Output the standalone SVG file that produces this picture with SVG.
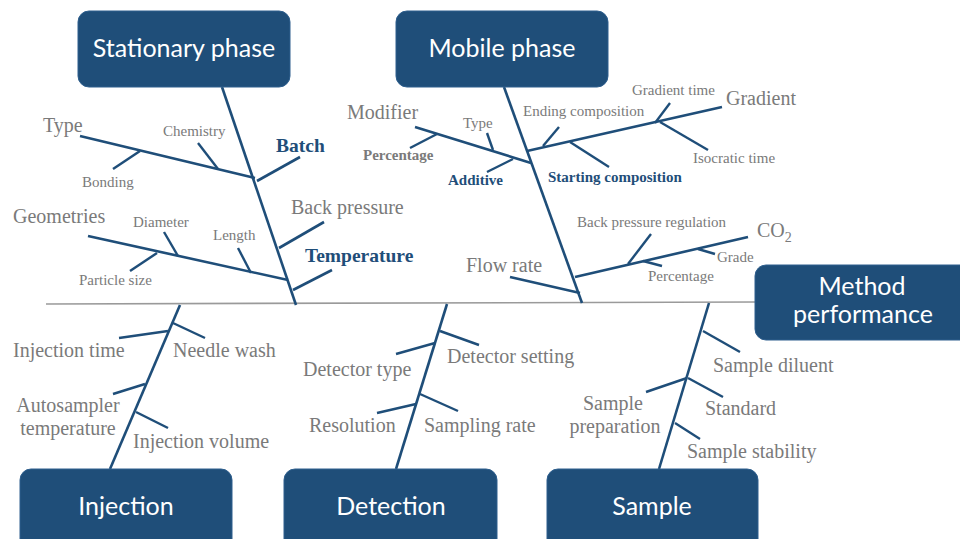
<svg xmlns="http://www.w3.org/2000/svg" width="960" height="539" viewBox="0 0 960 539">
<style>
.box{fill:#1F4E79;stroke:#2E5F8E;stroke-width:1}
.bt{font-family:Lato,"Open Sans",sans-serif;font-size:25px;fill:#ffffff;text-anchor:middle}
.bone{stroke:#1F4E79;stroke-width:2.6;fill:none;stroke-linecap:butt}
.sub{stroke:#1F4E79;stroke-width:2.4;fill:none}
.spine{stroke:#9a9a9a;stroke-width:1.6}
.lg{font-family:"Liberation Serif","Times New Roman",serif;font-size:20px;fill:#7a7a7a}
.sm{font-family:"Liberation Serif","Times New Roman",serif;font-size:15px;fill:#7a7a7a}
.bb{font-family:"Liberation Serif","Times New Roman",serif;font-weight:bold;fill:#1F4E79}
.bg{font-family:"Liberation Serif","Times New Roman",serif;font-weight:bold;font-size:15px;fill:#7a7a7a}
</style>
<rect width="960" height="539" fill="#ffffff"/>
<g id="connectors">
<line class="spine" x1="46" y1="304" x2="756" y2="302"/>
<!-- stationary phase -->
<line class="bone" x1="222" y1="87" x2="296" y2="305"/>
<line class="bone" x1="80" y1="136" x2="255" y2="178"/>
<line class="sub" x1="198" y1="143" x2="218" y2="169"/>
<line class="sub" x1="113" y1="169" x2="140" y2="151"/>
<line class="bone" x1="257" y1="181" x2="300" y2="157"/>
<line class="bone" x1="88" y1="236" x2="288" y2="280"/>
<line class="sub" x1="164" y1="232" x2="178" y2="256"/>
<line class="sub" x1="238" y1="248" x2="251" y2="273"/>
<line class="sub" x1="130" y1="271" x2="157" y2="253"/>
<line class="bone" x1="279" y1="248" x2="324" y2="222"/>
<line class="bone" x1="293" y1="290" x2="332" y2="270"/>
<!-- mobile phase -->
<line class="bone" x1="504" y1="87" x2="582" y2="303"/>
<line class="bone" x1="415" y1="127" x2="531" y2="163"/>
<line class="sub" x1="487" y1="133" x2="493" y2="150"/>
<line class="sub" x1="410" y1="148" x2="437" y2="134"/>
<line class="sub" x1="487" y1="172" x2="513" y2="159"/>
<line class="bone" x1="527" y1="151" x2="722" y2="107"/>
<line class="sub" x1="559" y1="127" x2="543" y2="146"/>
<line class="sub" x1="570" y1="142" x2="609" y2="167"/>
<line class="sub" x1="670" y1="103" x2="655" y2="123"/>
<line class="sub" x1="660" y1="122" x2="708" y2="150"/>
<line class="bone" x1="575" y1="277" x2="748" y2="237"/>
<line class="sub" x1="651" y1="234" x2="628" y2="264"/>
<line class="sub" x1="643" y1="261" x2="662" y2="266"/>
<line class="sub" x1="698" y1="249" x2="715" y2="254"/>
<line class="bone" x1="510" y1="277" x2="580" y2="293"/>
<!-- injection -->
<line class="bone" x1="180" y1="305" x2="110" y2="469"/>
<line class="sub" x1="119" y1="338" x2="168" y2="331"/>
<line class="sub" x1="173" y1="323" x2="205" y2="338"/>
<line class="sub" x1="113" y1="394" x2="145" y2="384"/>
<line class="sub" x1="136" y1="412" x2="168" y2="428"/>
<!-- detection -->
<line class="bone" x1="447" y1="304" x2="396" y2="469"/>
<line class="sub" x1="396" y1="354" x2="435" y2="343"/>
<line class="sub" x1="440" y1="331" x2="479" y2="345"/>
<line class="sub" x1="377" y1="413" x2="416" y2="404"/>
<line class="sub" x1="420" y1="394" x2="458" y2="411"/>
<!-- sample -->
<line class="bone" x1="709" y1="303" x2="659" y2="469"/>
<line class="sub" x1="703" y1="331" x2="740" y2="352"/>
<line class="sub" x1="646" y1="392" x2="687" y2="378"/>
<line class="sub" x1="688" y1="378" x2="723" y2="397"/>
<line class="sub" x1="675" y1="423" x2="700" y2="439"/>
</g>
<g id="node-stationary-phase">
<rect class="box" x="78" y="11" width="212" height="76" rx="11"/>
<text class="bt" x="184" y="57">Stationary phase</text>
</g>
<g id="node-mobile-phase">
<rect class="box" x="396" y="11" width="212" height="76" rx="11"/>
<text class="bt" x="502" y="57">Mobile phase</text>
</g>
<g id="node-method-performance">
<rect class="box" x="755" y="265" width="220" height="75" rx="11"/>
<text class="bt" x="862" y="295">Method</text>
<text class="bt" x="863" y="323">performance</text>
</g>
<g id="node-injection">
<rect class="box" x="20" y="469" width="212" height="85" rx="11"/>
<text class="bt" x="126" y="515">Injection</text>
</g>
<g id="node-detection">
<rect class="box" x="284" y="469" width="213" height="85" rx="11"/>
<text class="bt" x="391" y="515">Detection</text>
</g>
<g id="node-sample">
<rect class="box" x="547" y="469" width="211" height="85" rx="11"/>
<text class="bt" x="652" y="515">Sample</text>
</g>
<g id="labels-stationary">
<text class="lg" x="43" y="132">Type</text>
<text class="sm" x="163" y="136">Chemistry</text>
<text class="sm" x="82" y="187">Bonding</text>
<text class="bb" x="276" y="152" font-size="19.5">Batch</text>
<text class="lg" x="13" y="223">Geometries</text>
<text class="sm" x="133" y="227">Diameter</text>
<text class="sm" x="213" y="240">Length</text>
<text class="sm" x="79" y="285">Particle size</text>
<text class="lg" x="291" y="214">Back pressure</text>
<text class="bb" x="305" y="262" font-size="19.5">Temperature</text>
</g>
<g id="labels-mobile">
<text class="lg" x="347" y="119">Modifier</text>
<text class="sm" x="463" y="128">Type</text>
<text class="bg" x="363" y="160">Percentage</text>
<text class="bb" x="448" y="185" font-size="15">Additive</text>
<text class="sm" x="523" y="116">Ending composition</text>
<text class="bb" x="548" y="182" font-size="15">Starting composition</text>
<text class="sm" x="632" y="95">Gradient time</text>
<text class="lg" x="726" y="105">Gradient</text>
<text class="sm" x="693" y="163">Isocratic time</text>
<text class="sm" x="577" y="227">Back pressure regulation</text>
<text class="lg" x="757" y="237">CO<tspan font-size="14" dy="5">2</tspan></text>
<text class="sm" x="717" y="262">Grade</text>
<text class="sm" x="648" y="281">Percentage</text>
<text class="lg" x="466" y="272">Flow rate</text>
</g>
<g id="labels-injection">
<text class="lg" x="13" y="357">Injection time</text>
<text class="lg" x="173" y="357">Needle wash</text>
<text class="lg" x="68" y="412" text-anchor="middle">Autosampler</text>
<text class="lg" x="68" y="435" text-anchor="middle">temperature</text>
<text class="lg" x="133" y="448">Injection volume</text>
</g>
<g id="labels-detection">
<text class="lg" x="303" y="376">Detector type</text>
<text class="lg" x="447" y="363">Detector setting</text>
<text class="lg" x="309" y="432">Resolution</text>
<text class="lg" x="424" y="432">Sampling rate</text>
</g>
<g id="labels-sample">
<text class="lg" x="713" y="372">Sample diluent</text>
<text class="lg" x="613" y="410" text-anchor="middle">Sample</text>
<text class="lg" x="615" y="433" text-anchor="middle">preparation</text>
<text class="lg" x="705" y="415">Standard</text>
<text class="lg" x="687" y="458">Sample stability</text>
</g>
</svg>
